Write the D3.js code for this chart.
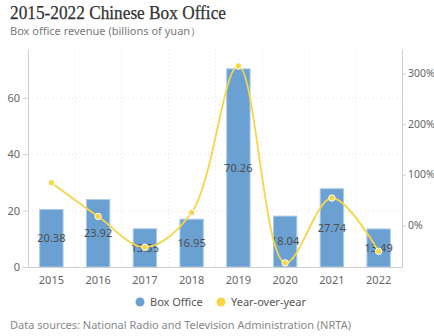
<!DOCTYPE html>
<html>
<head>
<meta charset="utf-8">
<script src="https://cdn.jsdelivr.net/npm/d3@7"></script>
<style>
  html, body { margin: 0; padding: 0; background: #fff; }
  svg { display: block; }
  text { font-family: "Noto Sans", "Open Sans", sans-serif; }
</style>
</head>
<body>
<svg id="chart" width="434" height="336"></svg>
<script>
// Annual box office, 2015-2022
const years = ["2015", "2016", "2017", "2018", "2019", "2020", "2021", "2022"];
const boxOffice = [20.38, 23.92, 13.55, 16.95, 70.26, 18.04, 27.74, 13.49];
// Year-over-year change, percent
const yoy = [84.0, 17.4, -43.4, 25.1, 314.5, -74.3, 53.8, -51.4];
const leftTicks = [0, 20, 40, 60];
const rightTicks = [0, 100, 200, 300];

const W = 434, H = 336;
const m = { left: 28, right: 32, top: 49, bottom: 69 };
const svg = d3.select("#chart");

const x = d3.scaleBand().domain(years).range([m.left, W - m.right]).paddingInner(0.5).paddingOuter(0.25);
const xb = d3.scaleBand().domain(years).range([m.left, W - m.right]);
const y = d3.scaleLinear().domain([0, 77.3]).range([H - m.bottom, m.top]);
const y2 = d3.scaleLinear().domain([-82.4, 348]).range([H - m.bottom, m.top]);

// Title block
svg.append("text").attr("x", 10).attr("y", 19)
  .attr("textLength", 216).attr("lengthAdjust", "spacingAndGlyphs")
  .style("font-family", "'Liberation Serif', serif").style("font-size", "18px")
  .attr("fill", "#333").attr("stroke", "#333").attr("stroke-width", 0.25)
  .text("2015-2022 Chinese Box Office");
svg.append("text").attr("x", 10).attr("y", 35)
  .style("font-size", "11px").attr("fill", "#7a7a7a")
  .text("Box office revenue (billions of yuan）");

// Dotted grid
const grid = svg.append("g").attr("stroke", "#e2e2e2").attr("stroke-dasharray", "1,3");
grid.selectAll("line.h").data(leftTicks.filter(d => d > 0)).join("line")
  .attr("x1", m.left).attr("x2", W - m.right)
  .attr("y1", d => y(d) + 0.5).attr("y2", d => y(d) + 0.5);
grid.selectAll("line.v").data(years.slice(1)).join("line")
  .attr("x1", d => xb(d) + 0.5).attr("x2", d => xb(d) + 0.5)
  .attr("y1", m.top).attr("y2", H - m.bottom);

// Bars
svg.append("g").selectAll("rect").data(years).join("rect")
  .attr("x", d => x(d)).attr("width", x.bandwidth())
  .attr("y", (d, i) => y(boxOffice[i]))
  .attr("height", (d, i) => y(0) - y(boxOffice[i]))
  .attr("fill", "#6aa0d2").attr("stroke", "#a9cbe9").attr("stroke-width", 1);

// Axes
const axisStyle = size => g => {
  g.select(".domain").attr("stroke", "#cfcfcf");
  g.selectAll(".tick line").attr("stroke", "#cfcfcf");
  g.selectAll("text").attr("fill", "#666").style("font-size", size)
    .style("font-family", "'Noto Sans', 'Open Sans', sans-serif");
};
svg.append("g").attr("transform", `translate(${m.left},0)`)
  .call(d3.axisLeft(y).tickValues(leftTicks).tickSize(5).tickPadding(3).tickSizeOuter(0))
  .call(axisStyle("11px"));
svg.append("g").attr("transform", `translate(${W - m.right},0)`)
  .call(d3.axisRight(y2).tickValues(rightTicks).tickFormat(d => d + "%").tickSize(4).tickPadding(2).tickSizeOuter(0))
  .call(axisStyle("10.5px"));
svg.append("g").attr("transform", `translate(0,${H - m.bottom})`)
  .call(d3.axisBottom(xb).tickSize(0).tickPadding(9).tickSizeOuter(0))
  .call(axisStyle("11px"));

// Value labels
svg.append("g").selectAll("text").data(years).join("text")
  .attr("x", d => x(d) + x.bandwidth() / 2)
  .attr("y", (d, i) => (y(boxOffice[i]) + y(0)) / 2)
  .attr("dy", "0.35em").attr("text-anchor", "middle")
  .style("font-size", "11px").attr("fill", "#4d4d4d")
  .text((d, i) => boxOffice[i].toFixed(2));

// Year-over-year line
const cx = d => x(d) + x.bandwidth() / 2;
const line = d3.line().x(d => cx(d)).y((d, i) => y2(yoy[i])).curve(d3.curveCatmullRom.alpha(0.5));
svg.append("path").datum(years).attr("d", line)
  .attr("fill", "none").attr("stroke", "#f6d548").attr("stroke-width", 1.8);
svg.append("g").selectAll("circle").data(years).join("circle")
  .attr("cx", d => cx(d)).attr("cy", (d, i) => y2(yoy[i])).attr("r", 3.2)
  .attr("fill", "#f6d548").attr("stroke", "#fff").attr("stroke-width", 1);

// Legend
const legend = [{ name: "Box Office", color: "#6aa0d2", x: 140 }, { name: "Year-over-year", color: "#f6d548", x: 221 }];
const lg = svg.append("g").selectAll("g").data(legend).join("g")
  .attr("transform", d => `translate(${d.x},302)`);
lg.append("circle").attr("r", 4.5).attr("fill", d => d.color);
lg.append("text").attr("x", 10).attr("dy", "0.35em")
  .style("font-size", "11px").attr("fill", "#555").text(d => d.name);

// Source note
svg.append("text").attr("x", 10).attr("y", 329)
  .style("font-size", "11px").attr("fill", "#888")
  .text("Data sources: National Radio and Television Administration (NRTA)");
</script>
</body>
</html>
